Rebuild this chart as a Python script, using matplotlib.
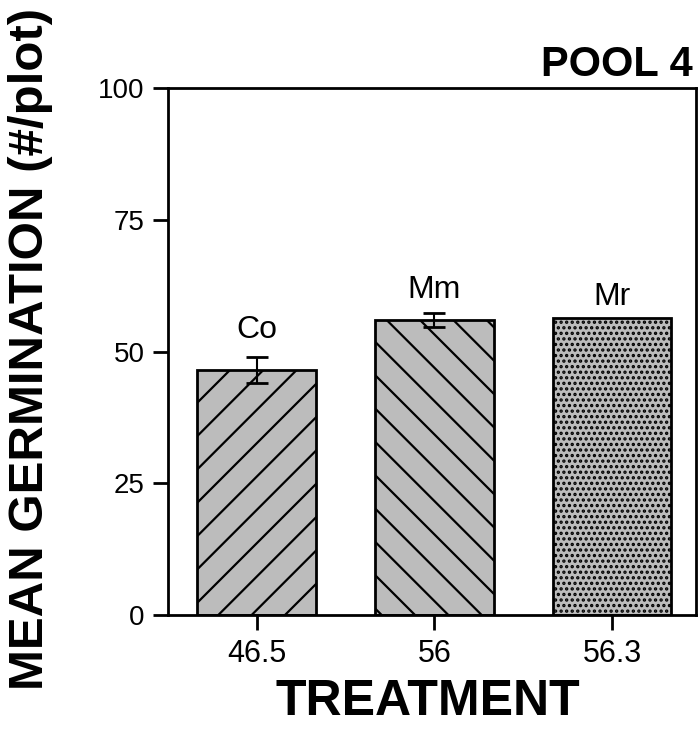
import matplotlib
matplotlib.use("Agg")
import matplotlib.pyplot as plt

plt.rcParams['font.family'] = ['Liberation Sans', 'DejaVu Sans']
plt.rcParams['hatch.linewidth'] = 1.6
plt.rcParams['hatch.color'] = '#111111'

treatments = ["Co", "Mm", "Mr"]
means = [46.5, 56.0, 56.3]
errors = [2.5, 1.4, 0.0]
tick_labels = ["46.5", "56", "56.3"]
hatches = ['/', '\\', '...']

fig = plt.figure(figsize=(6.99, 7.49), dpi=100)
ax = fig.add_axes([168/699, 1-615/749, (696-168)/699, (615-88)/749])

x = list(range(len(treatments)))
for i in x:
    ax.bar(i, means[i], width=0.67, facecolor='#bcbcbc', edgecolor='black',
           linewidth=2, hatch=hatches[i], zorder=2)
    if errors[i] > 0:
        ax.errorbar(i, means[i], yerr=errors[i], fmt='none', ecolor='black',
                    elinewidth=1.5, capsize=8, capthick=2, zorder=3)

label_offsets = [5.1, 4.3, 4.0]
for i in x:
    ax.text(i, means[i] + errors[i] + label_offsets[i], treatments[i],
            ha='center', va='center', fontsize=23)

ax.set_xlim(-0.501, 2.473)
ax.set_ylim(0, 100)
ax.set_yticks([0, 25, 50, 75, 100])
ax.set_xticks(x)
ax.set_xticklabels(tick_labels)
ax.tick_params(axis='both', width=2, length=11, direction='out')
ax.tick_params(axis='y', labelsize=20, pad=6)
ax.tick_params(axis='x', labelsize=22, pad=6)
for s in ax.spines.values():
    s.set_linewidth(2)

fig.text(31/699, 1-349/749, "MEAN GERMINATION (#/plot)", rotation=90,
         ha='center', va='center', fontsize=35.5, fontweight='bold')
fig.text(428/699, 1-702/749, "TREATMENT", ha='center', va='center',
         fontsize=36, fontweight='bold')
fig.text(693/699, 1-65/749, "POOL 4", ha='right', va='center',
         fontsize=30, fontweight='bold')

fig.savefig("out.png", dpi=100)
